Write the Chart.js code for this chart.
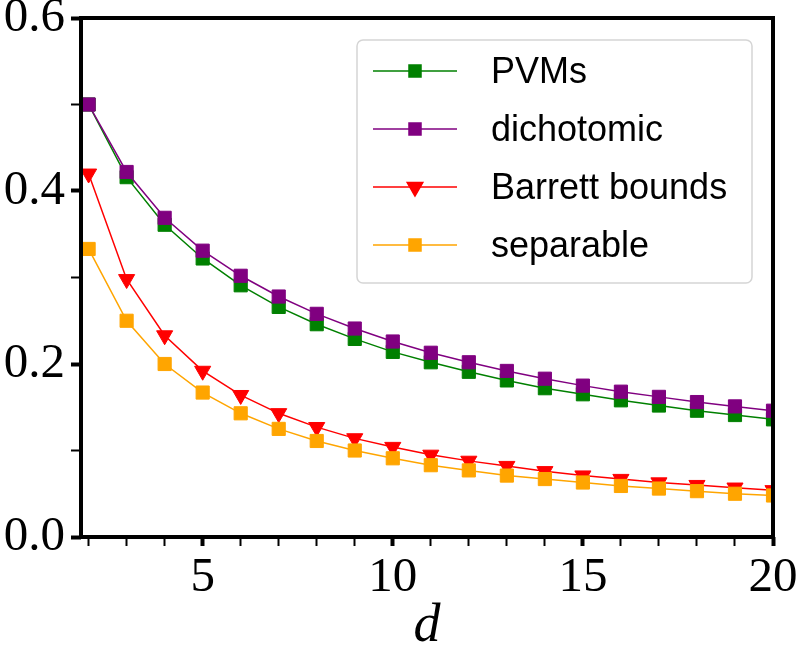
<!DOCTYPE html>
<html>
<head>
<meta charset="utf-8">
<script src="https://cdn.jsdelivr.net/npm/chart.js@4"></script>
<style>
  html, body { margin: 0; padding: 0; background: #fff; }
  canvas { display: block; }
</style>
</head>
<body>
<canvas id="chart" width="798" height="650"></canvas>
<script>
// d values on the x axis
const dims = [2, 3, 4, 5, 6, 7, 8, 9, 10, 11, 12, 13, 14, 15, 16, 17, 18, 19, 20];

const pvms = [0.5, 0.416, 0.361, 0.322, 0.291, 0.266, 0.246, 0.229, 0.214, 0.202,
              0.191, 0.181, 0.172, 0.165, 0.158, 0.152, 0.146, 0.141, 0.136];
const dichotomic = [0.5, 0.422, 0.369, 0.331, 0.302, 0.278, 0.258, 0.241, 0.226, 0.213,
                    0.202, 0.192, 0.183, 0.175, 0.168, 0.162, 0.156, 0.151, 0.146];
const barrett = [0.42, 0.298, 0.233, 0.192, 0.164, 0.143, 0.127, 0.114, 0.104, 0.095,
                 0.088, 0.082, 0.076, 0.071, 0.067, 0.063, 0.060, 0.057, 0.054];
const separable = [0.333, 0.25, 0.2, 0.167, 0.143, 0.125, 0.111, 0.1, 0.091, 0.083,
                   0.077, 0.071, 0.067, 0.063, 0.059, 0.056, 0.053, 0.05, 0.048];

const xTicks = [2, 3, 4, 5, 6, 7, 8, 9, 10, 11, 12, 13, 14, 15, 16, 17, 18, 19, 20];
const yTicks = [0, 0.1, 0.2, 0.3, 0.4, 0.5, 0.6];

function pts(ys) {
    return dims.map((d, i) => ({ x: d, y: ys[i] }));
}

function series(label, ys, color, style, order) {
    return {
        label: label,
        data: pts(ys),
        borderColor: color,
        backgroundColor: color,
        borderWidth: 1.5,
        pointStyle: style,
        pointRotation: style === 'triangle' ? 180 : 0,
        pointRadius: 9.3,
        pointBorderWidth: 1,
        pointBorderColor: color,
        pointBackgroundColor: color,
        tension: 0,
        order: order
    };
}

// black box round the plot
const framePlugin = {
    id: 'frame',
    afterDraw(chart) {
        const a = chart.chartArea;
        const c = chart.ctx;
        c.save();
        c.strokeStyle = '#000';
        c.lineWidth = 4;
        c.strokeRect(a.left, a.top, a.right - a.left, a.bottom - a.top);
        c.restore();
    }
};

// matplotlib style legend: line sample with marker in the middle
const legendPlugin = {
    id: 'mplLegend',
    afterDraw(chart) {
        const c = chart.ctx;
        const bx = 357, by = 40, bw = 395, bh = 243;
        c.save();
        c.beginPath();
        c.roundRect(bx, by, bw, bh, 6);
        c.fillStyle = 'rgba(255,255,255,0.85)';
        c.fill();
        c.strokeStyle = '#d5d5d5';
        c.lineWidth = 1.5;
        c.stroke();
        c.font = '36px "Liberation Sans", sans-serif';
        c.textBaseline = 'middle';
        chart.data.datasets.forEach((ds, i) => {
            const y = by + 31 + i * 58;
            c.strokeStyle = ds.borderColor;
            c.lineWidth = 1.5;
            c.beginPath();
            c.moveTo(373, y);
            c.lineTo(457, y);
            c.stroke();
            Chart.helpers.drawPoint(c, {
                pointStyle: ds.pointStyle,
                rotation: ds.pointRotation,
                radius: ds.pointStyle === 'triangle' ? 9 : 8.5,
                borderWidth: 1
            }, 415, y);
            c.fillStyle = ds.borderColor;
            c.fill();
            c.fillStyle = '#000';
            c.fillText(ds.label, 491, y + 2);
        });
        c.restore();
    }
};

const ctx = document.getElementById('chart').getContext('2d');

new Chart(ctx, {
    type: 'line',
    data: {
        datasets: [
            series('PVMs', pvms, '#008000', 'rect', 4),
            series('dichotomic', dichotomic, '#800080', 'rect', 3),
            series('Barrett bounds', barrett, '#ff0000', 'triangle', 2),
            series('separable', separable, '#ffa500', 'rect', 1)
        ]
    },
    options: {
        responsive: false,
        animation: false,
        devicePixelRatio: 1,
        layout: { padding: { top: 18, right: 25, left: 0, bottom: 0 } },
        plugins: {
            legend: { display: false },
            tooltip: { enabled: false }
        },
        scales: {
            x: {
                type: 'linear',
                min: 1.8,
                max: 20,
                afterBuildTicks: s => { s.ticks = xTicks.map(v => ({ value: v })); },
                afterFit: s => { s.height = 113; s.paddingLeft = 0; s.paddingRight = 0; },
                border: { display: false },
                grid: {
                    drawOnChartArea: false,
                    drawTicks: true,
                    tickLength: 9,
                    tickColor: '#000',
                    tickWidth: c => (c.tick && c.tick.value % 5 === 0) ? 4 : 2
                },
                ticks: {
                    autoSkip: false,
                    maxRotation: 0,
                    padding: 3,
                    color: '#000',
                    font: { family: '"Liberation Serif", serif', size: 49 },
                    callback: v => (v % 5 === 0 ? String(v) : '')
                },
                title: {
                    display: true,
                    text: 'd',
                    color: '#000',
                    padding: { top: 0, bottom: -4 },
                    font: { family: '"Liberation Serif", serif', size: 54, style: 'italic', lineHeight: 1 }
                }
            },
            y: {
                min: 0,
                max: 0.6,
                afterBuildTicks: s => { s.ticks = yTicks.map(v => ({ value: v })); },
                afterFit: s => { s.width = 81; s.paddingTop = 0; s.paddingBottom = 0; },
                border: { display: false },
                grid: {
                    drawOnChartArea: false,
                    drawTicks: true,
                    tickLength: 10,
                    tickColor: '#000',
                    tickWidth: c => (c.tick && Math.round(c.tick.value * 10) % 2 === 0) ? 4 : 2
                },
                ticks: {
                    autoSkip: false,
                    padding: 6,
                    color: '#000',
                    font: { family: '"Liberation Serif", serif', size: 49 },
                    callback: v => (Math.round(v * 10) % 2 === 0 ? v.toFixed(1) : '')
                }
            }
        }
    },
    plugins: [framePlugin, legendPlugin]
});
</script>
</body>
</html>
